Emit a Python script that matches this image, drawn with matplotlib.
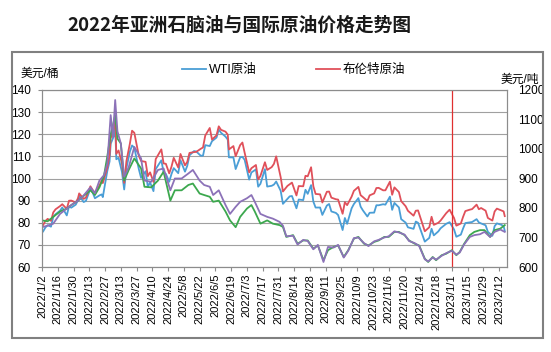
import numpy as np
import pandas as pd
import matplotlib
matplotlib.use("Agg")
import matplotlib.pyplot as plt
from matplotlib.patches import Rectangle
from matplotlib.lines import Line2D

plt.rcParams['font.family'] = ['Liberation Sans', 'Noto Sans CJK SC']

# crude oil, USD/bbl (left axis)
oil_dates = ["2022-01-03", "2022-01-05", "2022-01-07", "2022-01-10", "2022-01-12", "2022-01-14",
             "2022-01-18", "2022-01-20", "2022-01-24", "2022-01-26", "2022-01-28", "2022-02-01",
             "2022-02-03", "2022-02-04", "2022-02-08", "2022-02-10", "2022-02-14", "2022-02-16",
             "2022-02-18", "2022-02-22", "2022-02-24", "2022-02-25", "2022-03-01", "2022-03-03",
             "2022-03-04", "2022-03-07", "2022-03-08", "2022-03-09", "2022-03-11", "2022-03-14",
             "2022-03-16", "2022-03-18", "2022-03-21", "2022-03-23", "2022-03-25", "2022-03-29",
             "2022-03-31", "2022-04-04", "2022-04-06", "2022-04-08", "2022-04-11", "2022-04-13",
             "2022-04-18", "2022-04-20", "2022-04-22", "2022-04-25", "2022-04-27", "2022-04-29",
             "2022-05-03", "2022-05-05", "2022-05-09", "2022-05-11", "2022-05-13", "2022-05-17",
             "2022-05-19", "2022-05-23", "2022-05-25", "2022-05-27", "2022-05-31", "2022-06-02",
             "2022-06-06", "2022-06-08", "2022-06-10", "2022-06-14", "2022-06-16", "2022-06-17",
             "2022-06-21", "2022-06-23", "2022-06-27", "2022-06-29", "2022-07-01", "2022-07-05",
             "2022-07-07", "2022-07-11", "2022-07-13", "2022-07-15", "2022-07-19", "2022-07-21",
             "2022-07-25", "2022-07-27", "2022-07-29", "2022-08-02", "2022-08-04", "2022-08-08",
             "2022-08-10", "2022-08-12", "2022-08-16", "2022-08-18", "2022-08-22", "2022-08-24",
             "2022-08-26", "2022-08-29", "2022-08-31", "2022-09-02", "2022-09-06", "2022-09-08",
             "2022-09-12", "2022-09-14", "2022-09-16", "2022-09-20", "2022-09-22", "2022-09-26",
             "2022-09-28", "2022-09-30", "2022-10-04", "2022-10-06", "2022-10-10", "2022-10-12",
             "2022-10-14", "2022-10-18", "2022-10-20", "2022-10-24", "2022-10-26", "2022-10-28",
             "2022-11-01", "2022-11-03", "2022-11-07", "2022-11-09", "2022-11-11", "2022-11-15",
             "2022-11-17", "2022-11-21", "2022-11-23", "2022-11-28", "2022-11-30", "2022-12-02",
             "2022-12-06", "2022-12-08", "2022-12-12", "2022-12-14", "2022-12-16", "2022-12-20",
             "2022-12-22", "2022-12-27", "2022-12-30", "2023-01-03", "2023-01-05", "2023-01-09",
             "2023-01-11", "2023-01-13", "2023-01-17", "2023-01-19", "2023-01-23", "2023-01-25",
             "2023-01-27", "2023-01-31", "2023-02-02", "2023-02-06", "2023-02-08", "2023-02-10",
             "2023-02-14", "2023-02-16", "2023-02-17"]

brent = [78.98, 80.80, 81.75, 80.87, 84.67, 86.06, 87.51, 88.38, 86.27, 89.96, 90.03, 89.16,
         91.11, 93.27, 90.78, 91.41, 96.48, 94.81, 93.54, 96.84, 99.08, 97.93, 104.97, 110.46,
         118.11, 123.21, 127.98, 111.14, 112.67, 106.90, 98.02, 107.93, 115.62, 121.60, 120.65, 110.23,
         107.91, 107.53, 101.07, 102.78, 98.48, 108.78, 113.16, 106.80, 106.65, 102.32, 105.32, 109.34,
         104.97, 111.08, 105.94, 107.51, 111.55, 111.93, 112.04, 113.42, 114.03, 119.43, 122.84, 117.61,
         119.51, 123.58, 122.01, 121.17, 119.81, 113.12, 114.65, 110.05, 115.09, 116.26, 111.63, 102.77,
         104.65, 106.10, 99.57, 101.16, 107.35, 103.86, 105.15, 106.62, 110.01, 100.54, 94.12, 96.65,
         97.40, 98.15, 92.34, 96.59, 96.48, 101.22, 100.99, 105.09, 96.49, 93.02, 92.83, 89.15,
         94.00, 94.10, 91.35, 90.62, 90.46, 84.06, 89.32, 87.96, 91.80, 94.42, 96.19, 92.45,
         91.63, 89.85, 92.38, 93.26, 95.69, 95.77, 94.65, 94.67, 98.57, 92.65, 95.99, 93.86,
         89.78, 87.45, 85.41, 83.19, 85.43, 85.57, 79.35, 76.15, 77.99, 82.70, 79.04, 79.99,
         80.98, 84.33, 85.91, 82.10, 78.69, 79.65, 82.67, 85.28, 85.92, 86.16, 88.19, 86.12,
         86.66, 85.46, 82.17, 80.99, 85.09, 86.39, 85.58, 85.14, 83.00]

wti = [76.08, 77.85, 78.90, 78.23, 82.64, 83.82, 85.43, 86.90, 83.31, 87.35, 86.82, 88.20,
       90.27, 92.31, 89.36, 89.88, 95.46, 93.66, 91.07, 92.35, 92.81, 91.59, 103.41, 107.67,
       115.68, 119.40, 123.70, 108.70, 109.33, 103.01, 95.04, 104.70, 112.12, 114.93, 113.90, 104.24,
       100.28, 103.28, 96.23, 98.26, 94.29, 104.25, 108.21, 102.75, 102.07, 98.54, 102.02, 104.69,
       102.41, 108.26, 103.09, 105.71, 110.49, 112.40, 112.21, 110.29, 110.33, 115.07, 114.67, 116.87,
       118.50, 122.11, 120.67, 118.93, 117.59, 109.56, 109.52, 104.27, 109.57, 109.78, 108.43, 99.50,
       102.73, 104.09, 96.30, 97.59, 104.22, 96.35, 96.70, 97.26, 98.62, 94.42, 88.54, 90.76,
       91.93, 92.09, 86.53, 90.50, 90.23, 94.89, 93.06, 97.01, 89.55, 86.87, 86.88, 83.54,
       87.78, 88.48, 85.11, 84.45, 83.49, 76.71, 82.15, 79.49, 86.52, 88.45, 91.13, 87.27,
       85.61, 82.82, 84.51, 84.58, 87.91, 87.90, 88.37, 88.17, 91.79, 85.83, 88.96, 86.92,
       81.64, 80.04, 77.94, 77.24, 80.55, 79.98, 74.25, 71.46, 73.17, 77.28, 74.29, 76.09,
       77.49, 79.53, 80.26, 76.93, 73.67, 74.63, 77.41, 79.86, 80.18, 80.33, 81.62, 80.15,
       79.68, 78.87, 75.88, 74.11, 78.47, 79.72, 79.06, 78.49, 76.34]

# Asian naphtha, USD/t (right axis)
naph_dates = ["2022-01-02", "2022-01-07", "2022-01-12", "2022-01-18", "2022-01-24", "2022-01-28",
              "2022-02-03", "2022-02-07", "2022-02-14", "2022-02-18", "2022-02-22", "2022-02-26",
              "2022-03-01", "2022-03-04", "2022-03-06", "2022-03-08", "2022-03-10", "2022-03-13",
              "2022-03-16", "2022-03-20", "2022-03-25", "2022-03-31", "2022-04-03", "2022-04-09",
              "2022-04-15", "2022-04-20", "2022-04-26", "2022-04-30", "2022-05-06", "2022-05-12",
              "2022-05-16", "2022-05-22", "2022-05-26", "2022-05-31", "2022-06-03", "2022-06-08",
              "2022-06-14", "2022-06-18", "2022-06-23", "2022-06-27", "2022-07-03", "2022-07-07",
              "2022-07-10", "2022-07-15", "2022-07-21", "2022-07-26", "2022-08-01", "2022-08-04",
              "2022-08-07", "2022-08-13", "2022-08-17", "2022-08-22", "2022-08-26", "2022-08-31",
              "2022-09-04", "2022-09-09", "2022-09-13", "2022-09-18", "2022-09-22", "2022-09-27",
              "2022-10-01", "2022-10-06", "2022-10-10", "2022-10-15", "2022-10-19", "2022-10-24",
              "2022-10-28", "2022-11-02", "2022-11-06", "2022-11-11", "2022-11-15", "2022-11-20",
              "2022-11-24", "2022-11-29", "2022-12-03", "2022-12-08", "2022-12-11", "2022-12-15",
              "2022-12-18", "2022-12-23", "2022-12-27", "2023-01-01", "2023-01-05", "2023-01-08",
              "2023-01-12", "2023-01-17", "2023-01-21", "2023-01-26", "2023-01-30", "2023-02-04",
              "2023-02-08", "2023-02-13", "2023-02-17"]

naphtha_1 = [758, 755, 770, 788, 798, 810, 825, 838, 860, 844, 870, 908,
             975, 1050, 1080, 1115, 1035, 1019, 893, 929, 968, 934, 872, 870,
             893, 923, 825, 860, 860, 878, 883, 849, 844, 838, 821, 825,
             788, 758, 735, 770, 798, 810, 788, 747, 758, 747, 742, 736,
             702, 708, 679, 690, 690, 662, 673, 623, 657, 668, 673, 634,
             657, 696, 702, 679, 673, 685, 690, 702, 702, 719, 719, 708,
             690, 679, 673, 628, 617, 634, 623, 640, 645, 657, 640, 651,
             679, 708, 719, 725, 725, 702, 725, 730, 742]

naphtha_2 = [735, 740, 747, 780, 798, 810, 825, 838, 870, 850, 893, 911,
             950, 1115, 1040, 1166, 1060, 1019, 906, 938, 1007, 968, 893, 889,
             929, 934, 860, 900, 900, 917, 929, 893, 878, 872, 844, 860,
             810, 780, 804, 821, 833, 844, 821, 780, 770, 764, 753, 740,
             704, 706, 676, 692, 688, 660, 675, 617, 668, 666, 675, 632,
             655, 698, 700, 681, 671, 687, 692, 700, 704, 721, 717, 710,
             688, 681, 671, 626, 619, 632, 625, 638, 647, 655, 642, 649,
             677, 702, 708, 711, 719, 702, 719, 727, 719]

y_left_ticks = list(range(60, 141, 10))
y_right_ticks = list(range(600, 1201, 100))

oil_x = pd.to_datetime(oil_dates)
naph_x = pd.to_datetime(naph_dates)
tick_dates = pd.date_range("2022-01-02", "2023-02-12", freq="14D")
tick_labels = [f"{d.year}/{d.month}/{d.day}" for d in tick_dates]

c_wti = "#4a9ed6"
c_brent = "#e0505a"
c_n1 = "#3ca84e"
c_n2 = "#8c72b8"
grey = "#8c8c8c"

fig = plt.figure(figsize=(5.51, 3.52), dpi=100)
fig.patch.set_facecolor("white")

# outer chart frame
fig.patches.append(Rectangle((12 / 551, 1 - 338 / 352), 531 / 551, 286 / 352,
                             transform=fig.transFigure, fill=False,
                             edgecolor="#808080", linewidth=1.5))

fig.text(0.434, 0.929, "2022年亚洲石脑油与国际原油价格走势图",
         family=["Noto Sans CJK SC"], fontsize=13.5, fontweight="bold",
         ha="center", va="center", color="#1a1a1a")

ax = fig.add_axes([42 / 551, 1 - 267 / 352, 465 / 551, 177 / 352])
ax2 = ax.twinx()

ax.plot(oil_x, wti, color=c_wti, lw=1.3)
ax.plot(oil_x, brent, color=c_brent, lw=1.3)
ax2.plot(naph_x, naphtha_1, color=c_n1, lw=1.3)
ax2.plot(naph_x, naphtha_2, color=c_n2, lw=1.3)
ax.axvline(pd.Timestamp("2023-01-01"), color="#e03030", lw=0.9)

ax.set_xlim(pd.Timestamp("2022-01-02"), pd.Timestamp("2023-02-19"))
ax.set_ylim(60, 140)
ax2.set_ylim(600, 1200)
ax.set_yticks(y_left_ticks)
ax2.set_yticks(y_right_ticks)
ax.set_xticks(tick_dates)
ax.set_xticklabels(tick_labels, rotation=90, fontsize=8)

ax.yaxis.grid(True, color="#a0a0a0", lw=0.8)
ax.set_axisbelow(True)
ax.tick_params(axis="y", labelsize=8.5, length=3, pad=5, color=grey)
ax.tick_params(axis="x", length=3, pad=2, color=grey)
ax2.tick_params(axis="y", labelsize=8.5, length=0, pad=8)
for a in (ax, ax2):
    for s in a.spines.values():
        s.set_color(grey)
        s.set_linewidth(0.8)

handles = [Line2D([], [], color=c_wti, lw=1.3), Line2D([], [], color=c_brent, lw=1.3)]
fig.legend(handles, ["WTI原油", "布伦特原油"], loc="center", bbox_to_anchor=(0.533, 1 - 70 / 352),
           ncol=2, frameon=False, fontsize=9, handlelength=1.9, handletextpad=0.2,
           columnspacing=4.8)

fig.text(21 / 551, 1 - 74 / 352, "美元/桶", fontsize=8.5, ha="left", va="center")
fig.text(539 / 551, 1 - 80 / 352, "美元/吨", fontsize=8.5, ha="right", va="center")

fig.savefig("out.png", dpi=100)
